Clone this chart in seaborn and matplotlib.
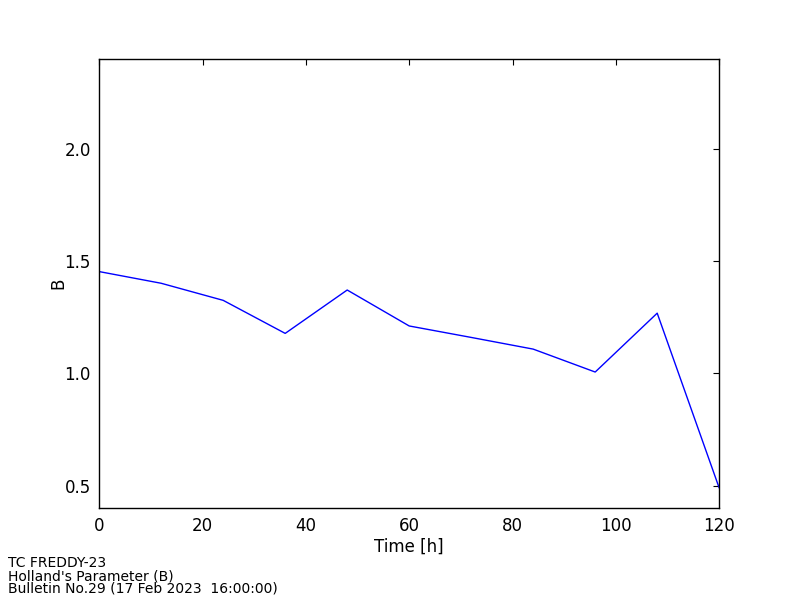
import pandas as pd
import seaborn as sns
import matplotlib
matplotlib.use('Agg')
import matplotlib.pyplot as plt

# Forecast hours and Holland's B parameter
hours = [0, 12, 24, 36, 48, 60, 72, 84, 96, 108, 120]
b_values = [1.453, 1.401, 1.325, 1.178, 1.371, 1.211, 1.16, 1.108, 1.006, 1.268, 0.49]

footer_lines = ["TC FREDDY-23",
                "Holland's Parameter (B)",
                "Bulletin No.29 (17 Feb 2023  16:00:00)"]

data = pd.DataFrame({'hour': hours, 'B': b_values})

sns.set_style('white')
plt.rcParams['font.family'] = ['DejaVu Sans']
plt.rcParams['text.color'] = 'black'
plt.rcParams['axes.labelcolor'] = 'black'

fig = plt.figure(figsize=(8, 6), dpi=100)
ax = fig.add_axes([0.124, 0.153, 0.775, 0.749])

sns.lineplot(x='hour', y='B', data=data, ax=ax, color='blue', linewidth=1)

ax.set_xlim(0, 120)
ax.set_ylim(0.4, 2.4)
ax.set_xticks([0, 20, 40, 60, 80, 100, 120])
ax.set_yticks([0.5, 1.0, 1.5, 2.0])
ax.set_xlabel('Time [h]', fontsize=12, labelpad=2)
ax.set_ylabel('B', fontsize=12, labelpad=-2)
ax.tick_params(direction='in', top=True, right=True, length=4, width=0.8,
               labelsize=12, colors='black', pad=6)
for s in ax.spines.values():
    s.set_color('black')
    s.set_linewidth(1)

fig.text(0.01, 0.007, "\n".join(footer_lines), fontsize=10, ha='left', va='bottom',
         linespacing=0.88, color='black')

fig.savefig('out.png', dpi=100, facecolor='white')
